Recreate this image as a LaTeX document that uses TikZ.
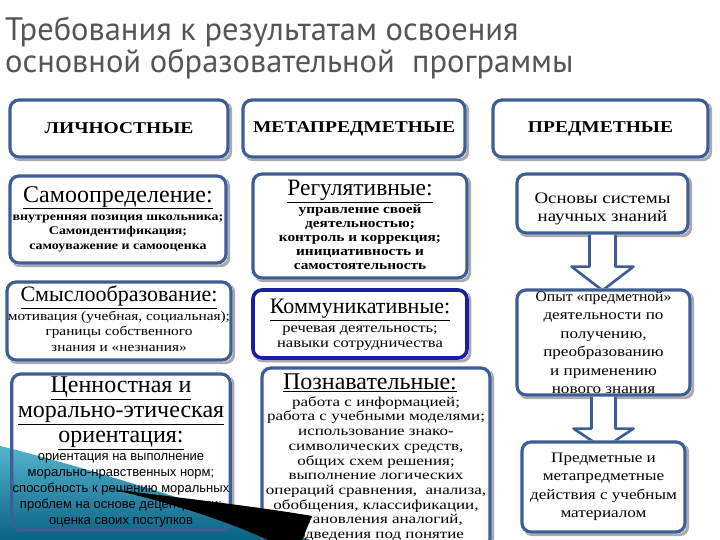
\documentclass[tikz,border=0pt]{standalone}
\usepackage{fontspec}
\setmainfont{Liberation Serif}
\newfontfamily\titlefont{PT Sans}
\newfontfamily\sansf{Liberation Sans}
\newfontfamily\wideserif[FakeStretch=1.18]{Liberation Serif}
\newfontfamily\widerserif[FakeStretch=1.25]{Liberation Serif}
\newfontfamily\midserif[FakeStretch=1.08]{Liberation Serif}
\usetikzlibrary{calc}
\definecolor{boxblue}{RGB}{62,92,150}
\definecolor{commblue}{RGB}{28,28,165}
\definecolor{titlegray}{RGB}{85,85,85}
\definecolor{tealA}{RGB}{85,180,205}
\definecolor{tealB}{RGB}{8,98,132}
\definecolor{shadowc}{RGB}{170,170,170}
\pgfdeclarelayer{bg}\pgfdeclarelayer{swoosh}\pgfdeclarelayer{front}
\pgfsetlayers{bg,swoosh,main,front}
\newcommand{\fsz}[2]{\fontsize{#1}{#2}\selectfont}
\newcommand{\blk}[2]{{#1\begin{tabular}{@{}c@{}}#2\end{tabular}}}
\tikzset{
  box/.style={draw=boxblue, line width=3.2pt, rounded corners=9pt, align=center, inner sep=1pt},
  headtext/.style={font=\wideserif\bfseries\fsz{16.5}{20}},
  blockarrow/.style={draw=boxblue, line width=2.6pt, fill=white, line join=round},
}
\begin{document}
\begin{tikzpicture}[x=1pt,y=-1pt]
\useasboundingbox (0,0) rectangle (720,540);
\clip (0,0) rectangle (720,540);
\begin{pgfonlayer}{bg}
\fill[white] (0,0) rectangle (720,540);
\end{pgfonlayer}

% title
\node[anchor=north west, align=left, text=titlegray, font=\titlefont\fsz{32.5}{32}, inner sep=0pt] (title) at (5,17)
  {Требования к результатам освоения\\основной образовательной\ \ программы};

% header row
\node[box, headtext, minimum width=218, minimum height=57] (h1) at (119,128.5) {ЛИЧНОСТНЫЕ};
\node[box, headtext, minimum width=222, minimum height=57] (h2) at (354,128.5) {МЕТАПРЕДМЕТНЫЕ};
\node[box, headtext, minimum width=215, minimum height=57] (h3) at (600.5,128.5) {ПРЕДМЕТНЫЕ};

% column 1
\node[box, minimum width=216, minimum height=87] (s1) at (118,219.5)
 {\blk{\fsz{24}{24}}{\underline{Самоопределение:}}\\[0pt]
  \blk{\wideserif\bfseries\fsz{11.8}{14.5}}{внутренняя позиция школьника;\\Самоидентификация;\\самоуважение и самооценка}};
\node[box, minimum width=218, minimum height=78] (s2) at (119,321)
 {\blk{\fsz{22}{22}}{\underline{Смыслообразование:}}\\[0pt]
  \blk{\wideserif\fsz{13}{15.5}}{мотивация (учебная, социальная);\\границы собственного\\знания и «незнания»}};
\node[box, minimum width=218, minimum height=153] (s3) at (121,452)
 {\blk{\fsz{24}{25}}{\underline{Ценностная и}\\\underline{морально-этическая}\\\underline{ориентация:}}\\[-2pt]
  \blk{\sansf\fsz{13}{16}}{ориентация на выполнение\\морально-нравственных норм;\\способность к решению моральных\\проблем на основе децентрации;\\оценка своих поступков}};

% column 2
\node[box, minimum width=214, minimum height=104] (r1) at (360,226)
 {\blk{\fsz{23.5}{24}}{\underline{Регулятивные:}}\\[0pt]
  \blk{\wideserif\bfseries\fsz{13}{14}}{управление своей\\деятельностью;\\контроль и коррекция;\\инициативность и\\самостоятельность}};
\node[box, draw=commblue, line width=3.6pt, minimum width=214, minimum height=68] (r2) at (360,324)
 {\rule{0pt}{6pt}\\[-4pt]\blk{\fsz{22}{22}}{\underline{Коммуникативные:}}\\[0pt]
  \blk{\wideserif\fsz{14}{15.5}}{речевая деятельность;\\навыки сотрудничества}};
\node[box, minimum width=228, minimum height=180] (r3) at (376,458)
 {\blk{\fsz{24}{24}}{\underline{Познавательные:}\hspace*{12pt}}\\[-2pt]
  \blk{\widerserif\fsz{13.6}{14.7}}{работа с информацией;\\работа с учебными моделями;\\использование знако-\\символических средств,\\общих схем решения;\\выполнение логических\\операций сравнения,\ \ анализа,\\обобщения, классификации,\\установления аналогий,\\подведения под понятие}};

% column 3
\node[box, font=\wideserif\fsz{16}{18}, minimum width=171, minimum height=59] (p1) at (602.5,203.5)
 {\rule{0pt}{22pt}Основы системы\\научных знаний};
\node[box, font=\wideserif\fsz{14.5}{18.5}, minimum width=173, minimum height=105] (p2) at (603.5,342.5)
 {{\midserif Опыт «предметной»}\\деятельности по\\получению,\\преобразованию\\и применению\\нового знания};
\node[box, font=\wideserif\fsz{14.5}{18.5}, minimum width=163, minimum height=90] (p3) at (603.5,487)
 {Предметные и\\метапредметные\\действия с учебным\\материалом};

% shadows, block arrows and white fills of the boxes
\begin{pgfonlayer}{bg}
\foreach \n in {h1,h2,h3,s1,s2,s3,r1,r2,r3,p1,p2,p3}{
  \fill[shadowc, rounded corners=9pt] ([shift={(2.5pt,-2.5pt)}]\n.north west) rectangle ([shift={(2.5pt,-2.5pt)}]\n.south east);
}
\draw[blockarrow] ($(p1.south)+(-13,-4)$) -- ($(p1.south)+(-13,32)$) -- ($(p1.south)+(-31,32)$)
   -- ($(p2.north)+(-1,2)$) -- ($(p1.south)+(31,32)$) -- ($(p1.south)+(13,32)$) -- ($(p1.south)+(13,-4)$);
\draw[blockarrow] ($(p2.south)+(-12,-4)$) -- ($(p2.south)+(-12,32)$) -- ($(p2.south)+(-30,32)$)
   -- ($(p3.north)+(0,8)$) -- ($(p2.south)+(30,32)$) -- ($(p2.south)+(12,32)$) -- ($(p2.south)+(12,-4)$);
\foreach \n in {h1,h2,h3,s1,s2,s3,r1,r2,r3,p1,p2,p3}{
  \fill[white, rounded corners=9pt] (\n.north west) rectangle (\n.south east);
}
\end{pgfonlayer}

% decorative swoosh
\begin{pgfonlayer}{swoosh}
\shade[top color=tealA, bottom color=tealB]
  (0,446) .. controls (90,468) and (200,505) .. (310,540) -- (0,540) -- cycle;
\end{pgfonlayer}
\begin{pgfonlayer}{front}
\fill[black] (110,489) .. controls (190,499) and (260,507) .. (312,516)
  -- (302,540) -- (268,540) .. controls (220,518) and (160,500) .. (110,489) -- cycle;
\end{pgfonlayer}
\end{tikzpicture}
\end{document}
